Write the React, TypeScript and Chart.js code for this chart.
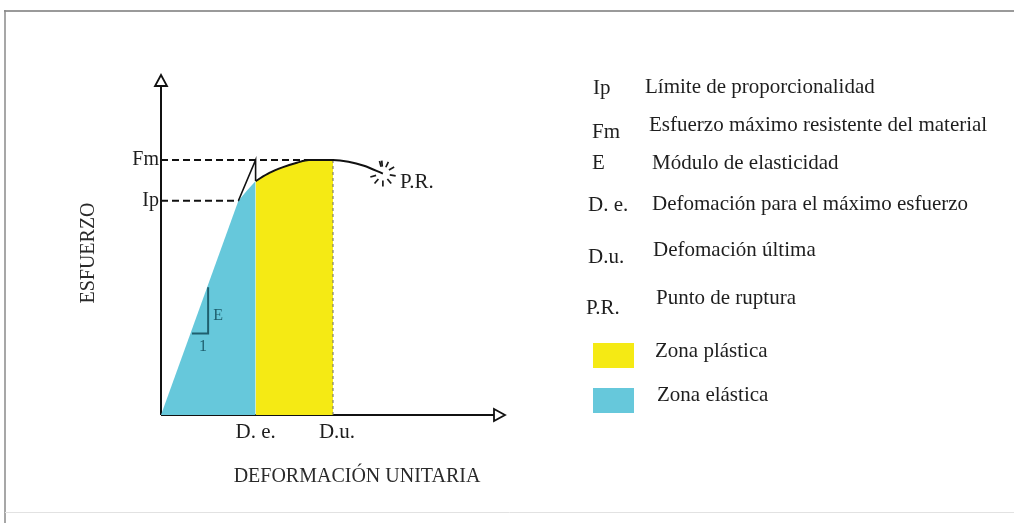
import React, { useEffect, useRef } from "react";
import { Chart, registerables } from "chart.js";

Chart.register(...registerables);

// ---- data (strain / stress in relative units) ----
const strain = [0, 22.5, 25, 27.5, 31.5, 35.5, 39.5, 43, 50, 54.5, 59, 64.5];
const stress = [0, 63, 66, 68.8, 71.2, 72.9, 74.2, 75, 75, 74.5, 73.3, 71];
const limitStress = 63; // Ip
const maxStress = 75; // Fm
const elasticStrain = 27.5; // D. e.
const ultimateStrain = 50; // D.u.
const axisMax = 100;
const slopeRun = [9, 13.7];
const slopeRise = [24, 37.6];
const slopeLabels = ["E", "1"];

const xTickValues = [elasticStrain, ultimateStrain];
const xTickLabels = ["D. e.", "D.u."];
const yTickValues = [limitStress, maxStress];
const yTickLabels = ["Ip", "Fm"];
const xTitle = "DEFORMACIÓN UNITARIA";
const yTitle = "ESFUERZO";
const breakLabel = "P.R.";

const legendSymbols = ["Ip", "Fm", "E", "D. e.", "D.u.", "P.R."];
const legendTexts = [
  "Límite de proporcionalidad",
  "Esfuerzo máximo resistente del material",
  "Módulo de elasticidad",
  "Defomación para el máximo esfuerzo",
  "Defomación última",
  "Punto de ruptura",
];
const zoneLabels = ["Zona plástica", "Zona elástica"];

// ---- styles / layout ----
const BLUE = "#66c8db";
const YELLOW = "#f5ea14";
const TEAL = "#1f5f6e";
const INK = "#1e1e1e";
const SERIF = "'Liberation Serif', 'Times New Roman', serif";
const symX = [593, 592, 592, 588, 588, 586];
const symY = [88, 132, 163, 205, 257, 308];
const txtX = [645, 649, 652, 652, 653, 656];
const txtY = [87, 125, 163, 204, 250, 298];
const xTickShift = [0, 4];
const zoneSwatch = [
  { x: 593, y: 343, color: YELLOW, tx: 655, ty: 351 },
  { x: 593, y: 388, color: BLUE, tx: 657, ty: 395 },
];

const diagramPlugin = {
  id: "diagram",
  beforeDatasetsDraw(chart: any) {
    const { ctx } = chart;
    const xs = chart.scales.x;
    const ys = chart.scales.y;
    const x0 = xs.getPixelForValue(0);
    const y0 = ys.getPixelForValue(0);
    const xe = xs.getPixelForValue(axisMax);
    const yt = ys.getPixelForValue(axisMax);
    ctx.save();
    // page frame
    ctx.strokeStyle = "#9a9a9a";
    ctx.lineWidth = 2;
    ctx.beginPath();
    ctx.moveTo(4, 11);
    ctx.lineTo(1014, 11);
    ctx.stroke();
    ctx.lineWidth = 1.5;
    ctx.strokeStyle = "#8a8a8a";
    ctx.beginPath();
    ctx.moveTo(5, 10);
    ctx.lineTo(5, 523);
    ctx.stroke();
    ctx.strokeStyle = "#e2e2e2";
    ctx.lineWidth = 1;
    ctx.beginPath();
    ctx.moveTo(5, 512.5);
    ctx.lineTo(1014, 512.5);
    ctx.stroke();
    // axes
    ctx.strokeStyle = "#111";
    ctx.lineWidth = 2;
    ctx.beginPath();
    ctx.moveTo(x0, y0);
    ctx.lineTo(x0, yt + 11);
    ctx.moveTo(x0, y0);
    ctx.lineTo(xe - 11, y0);
    ctx.stroke();
    ctx.lineWidth = 1.8;
    ctx.beginPath();
    ctx.moveTo(x0, yt);
    ctx.lineTo(x0 - 6, yt + 11);
    ctx.lineTo(x0 + 6, yt + 11);
    ctx.closePath();
    ctx.stroke();
    ctx.beginPath();
    ctx.moveTo(xe, y0);
    ctx.lineTo(xe - 11, y0 - 6);
    ctx.lineTo(xe - 11, y0 + 6);
    ctx.closePath();
    ctx.stroke();
    ctx.restore();
  },
  afterDatasetsDraw(chart: any) {
    const { ctx } = chart;
    const xs = chart.scales.x;
    const ys = chart.scales.y;
    const x0 = xs.getPixelForValue(0);
    const y0 = ys.getPixelForValue(0);
    ctx.save();
    ctx.fillStyle = INK;
    ctx.textBaseline = "middle";
    // x tick labels
    ctx.font = `21px ${SERIF}`;
    ctx.textAlign = "center";
    xTickValues.forEach((v, i) => {
      ctx.fillText(xTickLabels[i], xs.getPixelForValue(v) + xTickShift[i], y0 + 17);
    });
    // y tick labels
    ctx.font = `20px ${SERIF}`;
    ctx.textAlign = "right";
    yTickValues.forEach((v, i) => {
      ctx.fillText(yTickLabels[i], x0 - 2, ys.getPixelForValue(v));
    });
    // axis titles
    ctx.font = `20px ${SERIF}`;
    ctx.fillStyle = "#2a2a2a";
    ctx.textAlign = "center";
    ctx.fillText(xTitle, 357, y0 + 62);
    ctx.save();
    ctx.translate(89, 253);
    ctx.rotate(-Math.PI / 2);
    ctx.fillText(yTitle, 0, 0);
    ctx.restore();
    // slope triangle labels
    ctx.fillStyle = TEAL;
    ctx.font = `16px ${SERIF}`;
    ctx.textAlign = "left";
    const sx1 = xs.getPixelForValue(slopeRun[1]);
    const sx0 = xs.getPixelForValue(slopeRun[0]);
    const sy0 = ys.getPixelForValue(slopeRise[0]);
    const sy1 = ys.getPixelForValue(slopeRise[1]);
    ctx.fillText(slopeLabels[0], sx1 + 5, (sy0 + sy1) / 2 + 6);
    ctx.textAlign = "center";
    ctx.fillText(slopeLabels[1], (sx0 + sx1) / 2 + 3, sy0 + 13);
    // rupture burst
    const n = strain.length - 1;
    const bx = xs.getPixelForValue(strain[n]);
    const by = ys.getPixelForValue(stress[n]);
    ctx.strokeStyle = "#1a1a1a";
    ctx.lineWidth = 1.7;
    [-95, -65, -30, 10, 50, 90, 130, 165, 255].forEach((a) => {
      const r = (a * Math.PI) / 180;
      ctx.beginPath();
      ctx.moveTo(bx + Math.cos(r) * 7, by + Math.sin(r) * 7);
      ctx.lineTo(bx + Math.cos(r) * 13, by + Math.sin(r) * 13);
      ctx.stroke();
    });
    ctx.fillStyle = INK;
    ctx.font = `21px ${SERIF}`;
    ctx.textAlign = "left";
    ctx.fillText(breakLabel, bx + 17, by + 9);
    // legend
    legendSymbols.forEach((s, i) => {
      ctx.font = `21px ${SERIF}`;
      ctx.fillText(s, symX[i], symY[i]);
      ctx.fillText(legendTexts[i], txtX[i], txtY[i]);
    });
    zoneSwatch.forEach((z, i) => {
      ctx.fillStyle = z.color;
      ctx.fillRect(z.x, z.y, 41, 25);
      ctx.fillStyle = INK;
      ctx.fillText(zoneLabels[i], z.tx, z.ty);
    });
    ctx.restore();
  },
};

export default function App() {
  const ref = useRef<HTMLCanvasElement>(null);
  useEffect(() => {
    const canvas = ref.current;
    if (!canvas) return;
    const pts = strain.map((s, i) => ({ x: s, y: stress[i] }));
    const elastic = pts.filter((p) => p.x <= elasticStrain);
    const plastic = pts.filter((p) => p.x >= elasticStrain && p.x <= ultimateStrain);
    const upper = pts.filter((p) => p.x >= elasticStrain);
    const ipPt = pts.find((p) => p.y >= limitStress)!;
    const fmPt = pts.find((p) => p.y >= maxStress)!;
    const dePt = pts.find((p) => p.x === elasticStrain)!;
    const base = { pointRadius: 0, fill: false, clip: false as any };
    const chart = new Chart(canvas, {
      type: "line",
      data: {
        datasets: [
          {
            ...base,
            data: upper,
            borderColor: "#111",
            borderWidth: 2,
            cubicInterpolationMode: "monotone",
            order: 0,
          },
          {
            ...base,
            data: [ipPt, { x: elasticStrain, y: maxStress }, dePt],
            borderColor: "#111",
            borderWidth: 1.6,
            tension: 0,
            order: 1,
          },
          {
            ...base,
            data: [
              { x: slopeRun[0], y: slopeRise[0] },
              { x: slopeRun[1], y: slopeRise[0] },
              { x: slopeRun[1], y: slopeRise[1] },
            ],
            borderColor: TEAL,
            borderWidth: 2,
            tension: 0,
            order: 1,
          },
          {
            ...base,
            data: [{ x: 0, y: limitStress }, ipPt],
            borderColor: "#111",
            borderWidth: 2,
            borderDash: [7, 4],
            order: 2,
          },
          {
            ...base,
            data: [{ x: 0, y: maxStress }, fmPt],
            borderColor: "#111",
            borderWidth: 2,
            borderDash: [7, 4],
            order: 2,
          },
          {
            ...base,
            data: [{ x: ultimateStrain, y: maxStress }, { x: ultimateStrain, y: 0 }],
            borderColor: "#6a6a6a",
            borderWidth: 1,
            borderDash: [3, 3],
            order: 2,
          },
          {
            ...base,
            data: plastic,
            borderWidth: 0,
            borderColor: YELLOW,
            backgroundColor: YELLOW,
            fill: "origin",
            cubicInterpolationMode: "monotone",
            order: 5,
          },
          {
            ...base,
            data: elastic,
            borderWidth: 0,
            borderColor: BLUE,
            backgroundColor: BLUE,
            fill: "origin",
            tension: 0,
            order: 6,
          },
        ] as any,
      },
      options: {
        responsive: false,
        animation: false,
        events: [],
        layout: { padding: { left: 161, right: 509, top: 75, bottom: 108 } },
        scales: {
          x: { type: "linear", min: 0, max: axisMax, display: false },
          y: { type: "linear", min: 0, max: axisMax, display: false },
        },
        plugins: { legend: { display: false }, tooltip: { enabled: false } },
      },
      plugins: [diagramPlugin],
    });
    return () => chart.destroy();
  }, []);
  return (
    <div style={{ position: "absolute", left: 0, top: 0, width: 1014, height: 523, background: "#fff" }}>
      <canvas ref={ref} width={1014} height={523} style={{ display: "block" }} />
    </div>
  );
}
